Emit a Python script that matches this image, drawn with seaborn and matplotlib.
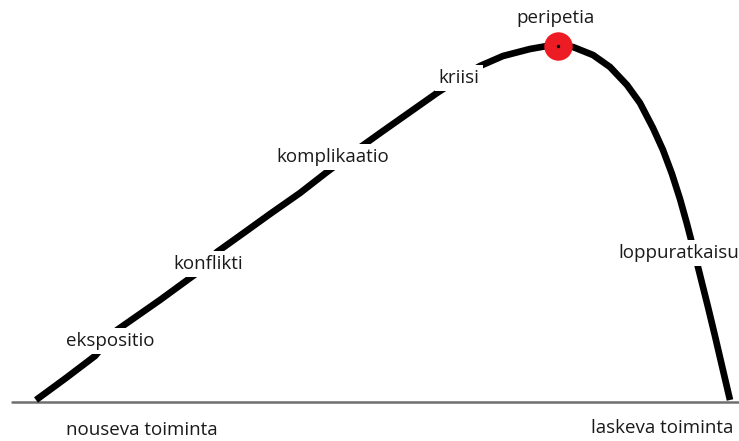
import numpy as np
import pandas as pd
import matplotlib.pyplot as plt
import seaborn as sns

# Kaaren pisteet (kuvan pikselikoordinaatit, y alaspäin)
arc_x = [36, 66, 95, 117, 160, 197, 217, 245, 270, 300, 327, 355, 383, 410, 437, 460, 480, 503,
         530, 547, 558, 573, 593, 610, 627, 640, 653, 663, 672, 680, 687, 694, 701, 708, 715,
         722, 730]
arc_y = [400, 378, 356, 330, 300, 273, 252, 232, 214, 193, 172, 151, 131, 112, 93, 78, 66, 56,
         49, 46, 46, 47, 55, 67, 85, 103, 128, 150, 174, 199, 224, 251, 279, 307, 336,
         366, 400]

peak_x = [558]
peak_y = [46]

base_x = [12, 739]
base_y = [402, 402]

label_text = ['peripetia', 'kriisi', 'komplikaatio', 'konflikti', 'ekspositio',
              'loppuratkaisu', 'nouseva toiminta', 'laskeva toiminta']
label_x = [556, 459, 333, 208, 110, 679, 142, 662]
label_y = [18, 78, 157, 264, 341, 253, 430, 428]

arc = pd.DataFrame({'x': arc_x, 'y': arc_y})

sns.set_style('white')
plt.rcParams['font.family'] = ['Open Sans', 'DejaVu Sans']

fig = plt.figure(figsize=(7.39, 4.41), dpi=100)
ax = fig.add_axes([0, 0, 1, 1])

sns.lineplot(x=base_x, y=base_y, color='#6f6f6f', linewidth=1.8, ax=ax)
sns.lineplot(data=arc, x='x', y='y', sort=False, estimator=None, color='black',
             linewidth=4.8, solid_capstyle='butt', solid_joinstyle='round', ax=ax)
sns.scatterplot(x=peak_x, y=peak_y, color='#ed1c24', s=420, linewidth=0, zorder=5, ax=ax)
sns.scatterplot(x=peak_x, y=peak_y, color='black', s=6, linewidth=0, zorder=6, ax=ax)

for t, x, y in zip(label_text, label_x, label_y):
    ax.text(x, y, t, ha='center', va='center', fontsize=13.5, color='#1a1a1a', zorder=4,
            bbox=dict(fc='white', ec='none', pad=2.5))

ax.set_xlim(0, 739)
ax.set_ylim(441, 0)
ax.axis('off')

fig.savefig('out.png', dpi=100)
